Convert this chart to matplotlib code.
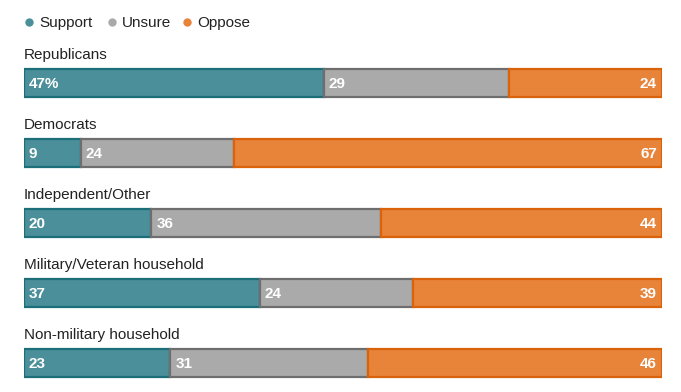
import matplotlib
matplotlib.use("Agg")
import matplotlib.pyplot as plt

groups = ["Republicans", "Democrats", "Independent/Other",
          "Military/Veteran household", "Non-military household"]
support = [47, 9, 20, 37, 23]
unsure = [29, 24, 36, 24, 31]
oppose = [24, 67, 44, 39, 46]
series_names = ["Support", "Unsure", "Oppose"]

fills = ["#4a8f99", "#aaaaaa", "#e8833a"]
edges = ["#1c6e79", "#6e6e6e", "#d9620a"]
dots = ["#4a8f99", "#aaaaaa", "#e8833a"]

W, H = 681, 392
fig = plt.figure(figsize=(W / 100, H / 100), dpi=100)
left_px, right_px = 23.5, 662
ax = fig.add_axes([left_px / W, 0, (right_px - left_px) / W, 1])
ax.set_xlim(0, 100)
ax.set_ylim(H, 0)
ax.axis("off")

font = "Liberation Sans"
px_per_unit = (right_px - left_px) / 100

row0, step, bar_h = 83, 70, 28
for i, g in enumerate(groups):
    yc = row0 + i * step
    ax.text(0, yc - 28, g, fontsize=11, family=font, color="#222222",
            ha="left", va="center")
    start = 0
    vals = [support[i], unsure[i], oppose[i]]
    for j, v in enumerate(vals):
        ax.barh(yc, v, left=start, height=bar_h, color=fills[j],
                edgecolor=edges[j], linewidth=1.6)
        label = f"{v}%" if (i == 0 and j == 0) else f"{v}"
        if j < 2:
            ax.text(start + 5 / px_per_unit, yc + 1, label, fontsize=11,
                    family=font, weight="bold", color="white",
                    ha="left", va="center")
        else:
            ax.text(start + v - 5 / px_per_unit, yc + 1, label, fontsize=11,
                    family=font, weight="bold", color="white",
                    ha="right", va="center")
        start += v

# legend
leg_x = [29, 112, 187]
for name, x, c in zip(series_names, leg_x, dots):
    xd = (x - left_px) / px_per_unit
    ax.plot([xd], [22], marker="o", markersize=6, color=c, clip_on=False,
            markeredgewidth=0)
    ax.text(xd + 10 / px_per_unit, 23, name, fontsize=11, family=font,
            color="#222222", ha="left", va="center")

fig.savefig("out.png", dpi=100)
